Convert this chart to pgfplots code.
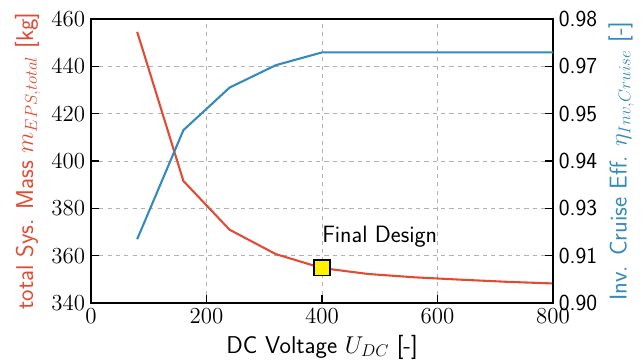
\RequirePackage{fix-cm}
\documentclass[12pt,border=0pt]{standalone}
\usepackage{fontspec}
\usepackage{pgfplots}
\pgfplotsset{compat=1.18}
\definecolor{cred}{HTML}{E24A33}
\definecolor{cblue}{HTML}{348ABD}
\newcommand{\bigf}{\fontsize{16.5}{19}\selectfont}
\newcommand{\labf}{\fontsize{17.5}{20}\selectfont}
\begin{document}
\begin{tikzpicture}
\pgfplotsset{every axis/.append style={scale only axis, width=332.6pt, height=204.5pt,
  xmin=0, xmax=800, axis line style={line width=1.4pt},
  major tick length=6pt, every tick/.style={black, line width=1pt}, tick align=inside,
  label style={font=\labf\sffamily}, tick label style={font=\bigf}}}
\begin{axis}[ymin=340, ymax=460, ytick={340,360,...,460}, xtick={0,200,...,800},
  xtick pos=bottom, ytick pos=left, grid=major,
  grid style={dashed, gray!60, line width=0.6pt},
  xlabel={DC Voltage $U_{DC}$ [-]},
  ylabel={\color{cred}total Sys. Mass $m_{EPS,total}$ [kg]}]
\addplot[cred, line width=1.5pt] coordinates {(80,454.6) (160,391.6) (240,371) (320,360.7) (400,354.8) (480,352.3) (560,350.9) (640,349.9) (720,349) (800,348.3)};
\addplot[only marks, mark=square*, mark size=5.7pt, mark options={fill=yellow, draw=black, line width=1.2pt}] coordinates {(400,355)};
\node[anchor=base west, inner sep=0pt, font=\fontsize{17}{20}\selectfont\sffamily] at (axis cs:400,365.5) {Final Design};
\end{axis}
\begin{axis}[axis y line*=right, axis x line=none, ymin=0.90, ymax=0.98,
  ytick={0.90,0.913333,0.926667,0.94,0.953333,0.966667,0.98},
  yticklabels={0.90,0.91,0.93,0.94,0.95,0.97,0.98},
  yticklabel style={font=\bigf\sffamily},
  ylabel={\color{cblue}Inv. Cruise Eff. $\eta_{Inv,Cruise}$ [-]}]
\addplot[cblue, line width=1.5pt] coordinates {(80,0.918) (160,0.9487) (240,0.9607) (320,0.967) (400,0.9706) (480,0.9706) (560,0.9706) (640,0.9706) (720,0.9706) (800,0.9706)};
\end{axis}
\pgfresetboundingbox
\path[use as bounding box] (-65.5pt,-41.8pt) rectangle (398.1pt,218.2pt);
\end{tikzpicture}
\end{document}
